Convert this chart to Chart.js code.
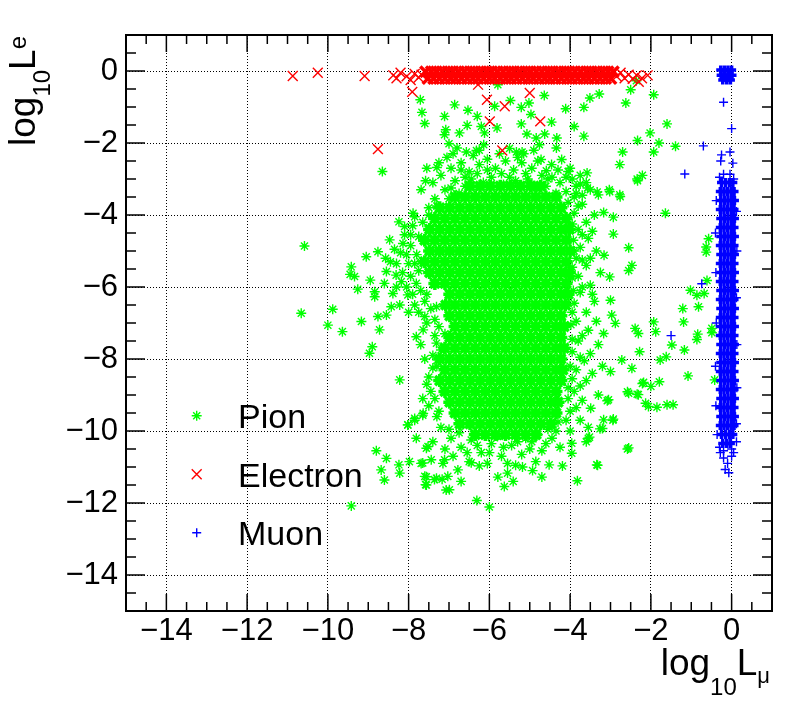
<!DOCTYPE html>
<html>
<head>
<meta charset="utf-8">
<script src="https://cdn.jsdelivr.net/npm/chart.js@4.4.1/dist/chart.umd.min.js"></script>
<style>
  html, body { margin: 0; padding: 0; background: #fff; }
  #box { width: 788px; height: 703px; }
</style>
</head>
<body>
<div id="box"><canvas id="plot" width="788" height="703"></canvas></div>
<script>
// axis ranges and tick labels
var xRange = [-15, 1];
var yRange = [-15, 1];
var xTicks = [-14, -12, -10, -8, -6, -4, -2, 0];
var yTicks = [0, -2, -4, -6, -8, -10, -12, -14];

// Pion: dense core, one row per log10 Le value
var pionCoreRows = [
  [-3.2, [-6.48, -6.23, -5.98, -5.73, -5.48, -5.23, -4.98, -4.73]],
  [-3.5, [-6.85, -6.6, -6.35, -6.1, -5.85, -5.6, -5.35, -5.1, -4.85, -4.6, -4.35]],
  [-3.8, [-7.23, -6.98, -6.73, -6.48, -6.23, -5.98, -5.73, -5.48, -5.23, -4.98, -4.73, -4.48, -4.23]],
  [-4.1, [-7.35, -7.1, -6.85, -6.6, -6.35, -6.1, -5.85, -5.6, -5.35, -5.1, -4.85, -4.6, -4.35, -4.1]],
  [-4.4, [-7.48, -7.23, -6.98, -6.73, -6.48, -6.23, -5.98, -5.73, -5.48, -5.23, -4.98, -4.73, -4.48, -4.23, -4.02]],
  [-4.7, [-7.6, -7.35, -7.1, -6.85, -6.6, -6.35, -6.1, -5.85, -5.6, -5.35, -5.1, -4.85, -4.6, -4.35, -4.1]],
  [-5.0, [-7.48, -7.23, -6.98, -6.73, -6.48, -6.23, -5.98, -5.73, -5.48, -5.23, -4.98, -4.73, -4.48, -4.23, -4.0]],
  [-5.3, [-7.6, -7.35, -7.1, -6.85, -6.6, -6.35, -6.1, -5.85, -5.6, -5.35, -5.1, -4.85, -4.6, -4.35, -4.1]],
  [-5.6, [-7.48, -7.23, -6.98, -6.73, -6.48, -6.23, -5.98, -5.73, -5.48, -5.23, -4.98, -4.73, -4.48, -4.23, -4.02]],
  [-5.9, [-7.35, -7.1, -6.85, -6.6, -6.35, -6.1, -5.85, -5.6, -5.35, -5.1, -4.85, -4.6, -4.35, -4.1]],
  [-6.2, [-6.98, -6.73, -6.48, -6.23, -5.98, -5.73, -5.48, -5.23, -4.98, -4.73, -4.48, -4.23, -4.05]],
  [-6.5, [-7.08, -6.85, -6.6, -6.35, -6.1, -5.85, -5.6, -5.35, -5.1, -4.85, -4.6, -4.35, -4.12]],
  [-6.8, [-6.98, -6.73, -6.48, -6.23, -5.98, -5.73, -5.48, -5.23, -4.98, -4.73, -4.48, -4.23]],
  [-7.1, [-6.85, -6.6, -6.35, -6.1, -5.85, -5.6, -5.35, -5.1, -4.85, -4.6, -4.35, -4.15]],
  [-7.4, [-6.98, -6.73, -6.48, -6.23, -5.98, -5.73, -5.48, -5.23, -4.98, -4.73, -4.48, -4.23]],
  [-7.7, [-7.1, -6.85, -6.6, -6.35, -6.1, -5.85, -5.6, -5.35, -5.1, -4.85, -4.6, -4.35, -4.15]],
  [-8.0, [-7.23, -6.98, -6.73, -6.48, -6.23, -5.98, -5.73, -5.48, -5.23, -4.98, -4.73, -4.48, -4.23]],
  [-8.3, [-7.1, -6.85, -6.6, -6.35, -6.1, -5.85, -5.6, -5.35, -5.1, -4.85, -4.6, -4.35, -4.18]],
  [-8.6, [-7.23, -6.98, -6.73, -6.48, -6.23, -5.98, -5.73, -5.48, -5.23, -4.98, -4.73, -4.48, -4.23]],
  [-8.9, [-7.1, -6.85, -6.6, -6.35, -6.1, -5.85, -5.6, -5.35, -5.1, -4.85, -4.6, -4.35]],
  [-9.2, [-6.98, -6.73, -6.48, -6.23, -5.98, -5.73, -5.48, -5.23, -4.98, -4.73, -4.48, -4.3]],
  [-9.5, [-6.85, -6.6, -6.35, -6.1, -5.85, -5.6, -5.35, -5.1, -4.85, -4.6, -4.35]],
  [-9.8, [-6.73, -6.48, -6.23, -5.98, -5.73, -5.48, -5.23, -4.98, -4.73, -4.48]],
  [-10.1, [-6.35, -6.1, -5.85, -5.6, -5.35, -5.1, -4.85]]
];

// Pion: scattered points [log10 Lmu, log10 Le]
var pionPoints = [
  [-7.71, -0.8], [-7.67, -1.15], [-7.6, -1.46], [-7.11, -1.26], [-6.86, -0.94], [-6.53, -1.09],
  [-6.3, -1.26], [-6.55, -1.51], [-7.08, -1.63], [-7.11, -1.77], [-6.74, -1.72], [-6.2, -1.54],
  [-6.12, -1.72], [-5.81, -1.58], [-5.87, -0.98], [-5.79, -0.38], [-5.48, -0.82], [-5.21, -1.01],
  [-5.02, -0.89], [-4.97, -1.21], [-5.21, -1.47], [-4.64, -0.68], [-4.46, -1.42], [-4.63, -1.75],
  [-5.07, -1.75], [-4.84, -1.86], [-4.33, -1.86], [-4.76, -2.05], [-4.34, -2.14], [-4.11, -1.05],
  [-3.66, -1.01], [-3.51, -0.75], [-3.28, -0.64], [-3.9, -1.54], [-3.66, -1.81], [-2.62, -0.89],
  [-2.5, -0.52], [-2.36, -0.27], [-1.93, -0.66], [-1.6, -1.47], [-2.02, -1.72], [-2.33, -1.93],
  [-1.8, -2.0], [-1.39, -2.09], [-1.93, -2.25], [-2.7, -2.25], [-2.77, -2.6], [-2.21, -2.9],
  [-2.34, -3.0], [-3.58, -2.83], [-2.77, -3.44], [-3.03, -3.3], [-3.33, -3.36], [-3.57, -3.25],
  [-7.0, -2.02], [-6.8, -2.14], [-6.57, -2.25], [-7.05, -2.4], [-7.3, -2.68], [-7.58, -3.05],
  [-7.69, -3.3], [-6.32, -2.21], [-6.14, -2.05], [-5.33, -2.25], [-5.19, -2.25], [-4.72, -2.46],
  [-4.46, -2.6], [-4.21, -2.46], [-4.59, -2.77], [-4.05, -2.79], [-8.65, -2.79],
  [-7.2, -2.9], [-6.95, -2.7], [-6.7, -2.55], [-6.5, -2.8], [-6.25, -2.6], [-6.05, -2.45],
  [-5.85, -2.7], [-5.6, -2.5], [-5.4, -2.75], [-5.2, -2.55], [-4.95, -2.7], [-4.7, -2.9],
  [-4.45, -2.95], [-4.25, -3.1], [-6.85, -3.05], [-6.6, -3.2], [-5.95, -2.95], [-5.5, -2.95],
  [-5.05, -3.0], [-4.6, -3.2], [-4.1, -3.35], [-3.9, -3.5], [-7.1, -3.3], [-7.35, -3.55],
  [-7.5, -3.8], [-3.95, -3.0], [-6.4, -2.35], [-5.75, -2.3], [-5.3, -2.4], [-6.15, -3.1],
  [-5.65, -3.15], [-5.25, -3.2], [-4.85, -3.25], [-7.4, -3.1], [-6.9, -2.3], [-6.6, -2.95],
  [-6.3, -2.85], [-5.1, -2.85], [-4.8, -2.5], [-4.3, -2.75], [-4.0, -2.7], [-3.75, -2.9],
  [-3.6, -3.1], [-4.05, -3.65], [-7.0, -3.55], [-6.75, -3.4],
  [-7.25, -2.55], [-6.95, -3.25], [-6.45, -3.0], [-6.05, -2.75], [-5.7, -2.85], [-5.35, -3.05],
  [-4.95, -3.15], [-4.55, -3.0], [-4.35, -3.4], [-6.25, -2.2], [-5.5, -2.15], [-4.9, -2.2],
  [-7.55, -2.7], [-6.7, -2.75], [-5.15, -2.3], [-4.1, -2.95], [-3.85, -3.2], [-7.3, -3.75],
  [-7.5, -4.0], [-3.8, -3.75],
  [-10.58, -4.86], [-10.66, -6.73], [-10.0, -7.06], [-9.88, -6.62], [-9.64, -7.24], [-9.17, -6.96],
  [-8.9, -7.66], [-8.97, -7.84], [-8.72, -7.19], [-8.76, -6.82], [-8.55, -6.78], [-9.42, -5.44],
  [-9.34, -5.71], [-9.45, -5.65], [-9.26, -6.06], [-9.05, -5.16], [-8.76, -5.02], [-8.95, -5.81],
  [-8.84, -6.13], [-8.84, -6.27], [-8.57, -5.2], [-8.47, -4.69], [-8.24, -4.19], [-8.1, -4.32],
  [-8.14, -4.79], [-8.39, -6.18], [-8.22, -6.5], [-8.43, -6.55], [-8.55, -5.57], [-8.31, -5.67],
  [-8.02, -6.22], [-8.18, -5.85], [-8.22, -8.58], [-8.8, -10.55], [-8.55, -10.76], [-8.68, -11.08],
  [-8.6, -11.36], [-8.24, -10.94], [-8.22, -11.17], [-7.98, -10.85], [-9.42, -12.08], [-8.02, -9.83],
  [-7.85, -9.65], [-7.64, -9.51], [-7.81, -7.38], [-7.64, -7.19], [-7.31, -7.56], [-7.6, -6.82],
  [-7.31, -6.55], [-7.81, -10.2], [-7.56, -10.48], [-7.69, -10.9], [-7.56, -11.27], [-7.56, -11.5],
  [-7.31, -11.31], [-7.44, -10.8], [-7.15, -10.9], [-7.07, -11.64], [-7.89, -3.95], [-7.81, -5.9],
  [-7.9, -4.3], [-7.75, -4.6], [-7.95, -4.85], [-7.8, -5.1], [-8.0, -5.35], [-7.75, -5.55],
  [-7.7, -6.1], [-7.6, -6.4], [-7.45, -6.6], [-7.35, -6.9], [-7.55, -6.2], [-7.85, -6.5],
  [-8.1, -4.55], [-8.2, -5.05], [-8.15, -5.6], [-8.05, -6.0], [-7.65, -4.2], [-7.7, -5.3],
  [-7.25, -7.1], [-7.1, -7.3], [-7.4, -7.9], [-7.3, -8.2], [-7.5, -8.5], [-7.45, -8.9],
  [-7.5, -9.3], [-7.3, -9.6], [-7.6, -8.0], [-8.35, -4.95], [-8.3, -5.35], [-7.95, -5.7], [-8.6, -5.9],
  [-7.85, -4.05], [-7.95, -4.55], [-8.05, -5.1], [-7.85, -5.35], [-7.9, -6.2], [-7.75, -6.7],
  [-7.55, -7.0], [-7.35, -7.35], [-7.2, -7.75], [-7.4, -8.25], [-7.55, -8.7], [-7.35, -9.1],
  [-7.25, -9.45], [-7.65, -9.1], [-8.3, -6.0], [-8.45, -5.3], [-8.0, -6.7], [-7.7, -7.6],
  [-3.75, -3.14], [-3.3, -3.44], [-3.02, -3.35], [-2.76, -3.49], [-2.33, -3.05], [-3.17, -3.93],
  [-2.93, -4.06], [-1.64, -3.95], [-2.93, -4.53], [-2.55, -4.91], [-3.16, -5.12], [-2.47, -5.4],
  [-2.55, -5.54], [-3.02, -5.72], [-3.0, -6.37], [-2.97, -6.78], [-2.88, -7.01], [-3.17, -7.29],
  [-2.39, -7.15], [-2.31, -7.29], [-1.93, -6.97], [-1.88, -7.24], [-2.28, -7.8], [-2.72, -8.03],
  [-2.47, -8.26], [-3.0, -8.35], [-1.77, -8.03], [-1.62, -7.94], [-1.48, -7.61], [-1.17, -7.75],
  [-1.08, -8.47], [-2.18, -8.65], [-2.0, -8.76], [-1.79, -8.63], [-2.55, -8.95], [-2.31, -8.99],
  [-2.06, -9.32], [-1.85, -9.34], [-1.6, -9.27], [-1.45, -9.27], [-3.05, -9.13], [-3.17, -9.69],
  [-2.93, -9.67], [-3.26, -9.94], [-3.52, -10.17], [-2.55, -10.47], [-3.32, -10.95], [-1.02, -6.09],
  [-0.86, -6.23], [-0.68, -6.18], [-1.21, -6.6], [-0.82, -6.55], [-1.19, -6.97], [-0.84, -7.31],
  [-0.86, -7.46], [-0.49, -7.15], [-0.49, -7.27], [-0.61, -5.82], [-0.57, -4.66], [-0.63, -4.89],
  [-0.63, -5.03], [-0.42, -8.58],
  [-3.85, -3.4], [-3.7, -3.7], [-3.9, -3.95], [-3.6, -4.2], [-3.8, -4.4], [-3.55, -4.65],
  [-3.75, -4.9], [-3.85, -5.2], [-3.6, -5.4], [-3.8, -5.7], [-3.5, -5.95], [-3.75, -6.15],
  [-3.9, -6.45], [-3.6, -6.7], [-3.85, -6.95], [-3.55, -7.2], [-3.8, -7.5], [-3.95, -7.8],
  [-3.65, -8.05], [-3.85, -8.3], [-3.6, -8.6], [-3.9, -8.9], [-3.7, -9.15], [-4.0, -9.45],
  [-3.75, -9.7], [-3.4, -4.0], [-3.35, -5.0], [-3.4, -6.4], [-3.3, -7.6], [-3.45, -8.4],
  [-3.3, -9.0], [-3.5, -3.3], [-4.0, -10.0], [-3.6, -10.3], [-3.92, -4.7], [-3.95, -5.45],
  [-3.92, -6.1], [-3.98, -7.05], [-3.95, -8.55], [-4.05, -9.1], [-3.45, -4.45], [-3.25, -5.6],
  [-3.35, -6.95], [-3.2, -8.2],
  [-3.7, -3.45], [-3.95, -4.25], [-3.7, -4.55], [-3.9, -5.0], [-3.7, -5.25], [-3.95, -5.75],
  [-3.7, -6.0], [-3.95, -6.7], [-3.7, -7.35], [-3.95, -7.45], [-3.75, -7.95], [-4.0, -8.2],
  [-3.75, -8.75], [-4.05, -8.8], [-3.85, -9.35], [-4.1, -9.7], [-3.55, -9.9], [-3.5, -7.85],
  [-3.45, -6.2], [-3.5, -5.2],
  [-7.65, -10.89], [-7.6, -11.26], [-7.58, -11.49], [-7.36, -11.35], [-7.17, -11.34], [-7.03, -11.26],
  [-6.99, -11.63], [-6.7, -11.4], [-6.78, -11.08], [-7.11, -10.8], [-6.45, -10.88], [-6.25, -10.97],
  [-6.31, -11.93], [-6.0, -12.11], [-5.79, -11.28], [-5.63, -11.54], [-5.41, -11.4], [-5.55, -11.17],
  [-5.18, -11.0], [-4.93, -11.1], [-4.7, -11.28], [-4.52, -10.94], [-4.19, -10.97], [-3.82, -11.38],
  [-3.34, -10.94], [-2.58, -10.5], [-3.08, -9.16], [-2.94, -9.7], [-3.2, -9.93], [-3.55, -10.2],
  [-3.49, -9.37], [-2.58, -8.91], [-2.34, -8.98], [-2.13, -9.23], [-2.21, -8.68], [-3.96, -10.62],
  [-3.96, -10.34], [-7.85, -9.7], [-7.65, -9.56], [-8.02, -9.83], [-7.52, -10.43],
  [-7.2, -9.9], [-6.95, -10.2], [-6.7, -10.45], [-6.45, -10.25], [-6.2, -10.6], [-5.95, -10.35],
  [-5.7, -10.7], [-5.45, -10.4], [-5.2, -10.65], [-4.95, -10.3], [-4.7, -10.55], [-4.45, -10.2],
  [-4.25, -10.45], [-4.55, -9.95], [-4.3, -9.75], [-6.9, -10.7], [-6.5, -10.85], [-6.05, -10.9],
  [-5.35, -10.95], [-4.85, -10.85], [-7.4, -10.3], [-7.1, -10.5], [-5.8, -10.15], [-5.1, -10.2],
  [-6.75, -10.05], [-6.55, -10.6], [-6.3, -10.4], [-6.0, -10.6], [-5.65, -10.45], [-5.3, -10.3],
  [-5.0, -10.5], [-4.6, -10.35], [-4.35, -10.0], [-4.8, -10.1], [-7.0, -9.95], [-5.55, -10.9]
];

// Electron: dense band near log10 Le = 0
var electronCoreRows = [
  [-0.02, [-7.58, -7.44, -7.31, -7.17, -7.03, -6.9, -6.76, -6.62, -6.48, -6.35, -6.21, -6.07, -5.94,
           -5.8, -5.66, -5.52, -5.39, -5.25, -5.11, -4.98, -4.84, -4.7, -4.56, -4.43, -4.29, -4.15,
           -4.02, -3.88, -3.74, -3.6, -3.47, -3.33, -3.19, -3.06, -2.93]],
  [-0.21, [-7.52, -7.38, -7.24, -7.1, -6.96, -6.83, -6.69, -6.55, -6.41, -6.28, -6.14, -6.0, -5.87,
           -5.73, -5.59, -5.46, -5.32, -5.18, -5.04, -4.91, -4.77, -4.63, -4.5, -4.36, -4.22, -4.08,
           -3.95, -3.81, -3.67, -3.54, -3.4, -3.26, -3.12, -2.99]]
];
var electronPoints = [
  [-8.38, -0.12], [-8.3, -0.2], [-8.2, -0.05], [-8.05, -0.15], [-7.95, -0.25], [-7.85, -0.08],
  [-7.75, -0.18], [-7.68, -0.1], [-2.85, -0.15], [-2.75, -0.05], [-2.65, -0.2], [-2.55, -0.1],
  [-2.45, -0.22], [-2.35, -0.12], [-2.22, -0.2], [-2.08, -0.12], [-2.3, -0.3],
  [-10.87, -0.14], [-10.25, -0.05], [-9.09, -0.14], [-8.76, -2.17], [-7.91, -0.58], [-6.06, -0.8],
  [-5.62, -0.98], [-5.0, -0.61], [-5.99, -1.4], [-4.74, -1.4], [-5.68, -2.21], [-6.28, -0.38]
];

// Muon: dense column near log10 Lmu = 0
var muonCoreRows = [
  [0.03, [-0.27, -0.18, -0.09, 0.0]], [-0.12, [-0.26, -0.17, -0.08, 0.01]], [-0.25, [-0.22, -0.12, -0.03]],
  [-3.1, [-0.25, -0.15, -0.05, 0.03]],
  [-3.35, [-0.28, -0.19, -0.1, -0.01, 0.06]], [-3.6, [-0.27, -0.18, -0.09, 0.0, 0.07]],
  [-3.85, [-0.28, -0.19, -0.1, -0.01, 0.06]], [-4.1, [-0.27, -0.18, -0.09, 0.0, 0.07]],
  [-4.35, [-0.28, -0.19, -0.1, -0.01, 0.06]], [-4.6, [-0.27, -0.18, -0.09, 0.0, 0.07]],
  [-4.85, [-0.28, -0.19, -0.1, -0.01, 0.06]], [-5.1, [-0.27, -0.18, -0.09, 0.0, 0.07]],
  [-5.35, [-0.28, -0.19, -0.1, -0.01, 0.06]], [-5.6, [-0.27, -0.18, -0.09, 0.0, 0.07]],
  [-5.85, [-0.28, -0.19, -0.1, -0.01, 0.06]], [-6.1, [-0.27, -0.18, -0.09, 0.0, 0.07]],
  [-6.35, [-0.28, -0.19, -0.1, -0.01, 0.06]], [-6.6, [-0.27, -0.18, -0.09, 0.0, 0.07]],
  [-6.85, [-0.28, -0.19, -0.1, -0.01, 0.06]], [-7.1, [-0.27, -0.18, -0.09, 0.0, 0.07]],
  [-7.35, [-0.28, -0.19, -0.1, -0.01, 0.06]], [-7.6, [-0.27, -0.18, -0.09, 0.0, 0.07]],
  [-7.85, [-0.28, -0.19, -0.1, -0.01, 0.06]], [-8.1, [-0.27, -0.18, -0.09, 0.0, 0.07]],
  [-8.35, [-0.28, -0.19, -0.1, -0.01, 0.06]], [-8.6, [-0.27, -0.18, -0.09, 0.0, 0.07]],
  [-8.85, [-0.28, -0.19, -0.1, -0.01, 0.06]], [-9.1, [-0.27, -0.18, -0.09, 0.0, 0.07]],
  [-9.35, [-0.28, -0.19, -0.1, -0.01, 0.06]], [-9.6, [-0.27, -0.18, -0.09, 0.0, 0.07]],
  [-9.85, [-0.28, -0.19, -0.1, -0.01, 0.06]], [-10.1, [-0.25, -0.15, -0.05, 0.03]],
  [-10.35, [-0.22, -0.12, -0.03]]
];
var muonPoints = [
  [-0.2, -0.87], [0.0, -1.6], [-0.7, -2.08], [-1.16, -2.86], [-0.25, -2.33], [-0.04, -2.25],
  [0.03, -2.56], [-0.27, -2.5], [-0.2, -2.87], [-0.04, -2.87], [0.05, -3.0], [-0.3, -2.95],
  [-0.74, -5.91], [-1.5, -7.35],
  [-0.2, -10.55], [0.0, -10.5], [-0.28, -10.6], [-0.2, -10.75], [0.0, -10.7], [-0.16, -11.07],
  [-0.07, -11.16], [-0.1, -10.9], [0.05, -10.6], [-0.3, -10.45],
  [-0.38, -3.6], [0.12, -3.9], [-0.4, -4.5], [0.13, -5.0], [-0.39, -5.6], [0.12, -6.3],
  [-0.38, -7.0], [0.13, -7.6], [-0.4, -8.2], [0.13, -8.8], [-0.39, -9.3], [0.12, -9.8],
  [-0.36, -10.1], [0.12, -10.3]
];

function fromRows(rows) {
  var out = [];
  rows.forEach(function (r) {
    r[1].forEach(function (x) { out.push({ x: x, y: r[0] }); });
  });
  return out;
}
function fromPairs(list) {
  return list.map(function (p) { return { x: p[0], y: p[1] }; });
}
function minusLabel(v) {
  return v < 0 ? '\u2212' + Math.abs(v) : String(v);
}

var FONT = '"Liberation Sans", Arial, Helvetica, sans-serif';
Chart.defaults.font.family = FONT;
Chart.defaults.color = '#000';

var green = '#00ff00', red = '#ff0000', blue = '#0000ff';

function markerSet(label, data, color, style, radius, width, order) {
  return {
    label: label,
    data: data,
    pointStyle: style,
    pointRadius: radius,
    pointBorderWidth: width,
    borderColor: color,
    backgroundColor: color,
    showLine: false,
    order: order
  };
}

var datasets = [
  markerSet('Pion', fromPairs(pionPoints), green, 'star', 5, 1.4, 4),
  markerSet('Electron', fromPairs(electronPoints), red, 'crossRot', 7, 1.4, 2),
  markerSet('Muon', fromPairs(muonPoints), blue, 'cross', 4.5, 1.4, 0),
  markerSet('Pion core', fromRows(pionCoreRows), green, 'star', 6.5, 3.5, 5),
  markerSet('Electron core', fromRows(electronCoreRows), red, 'crossRot', 7.5, 3.5, 3),
  markerSet('Muon core', fromRows(muonCoreRows), blue, 'cross', 4.5, 3.5, 1)
];

// ROOT style frame, inward ticks, axis titles and legend box
var rootStyle = {
  id: 'rootStyle',
  afterDraw: function (chart) {
    var ctx = chart.ctx, a = chart.chartArea;
    var xs = chart.scales.x, ys = chart.scales.y;
    var i, v, p, len;
    ctx.save();
    ctx.strokeStyle = '#000';
    ctx.lineWidth = 1.5;
    ctx.beginPath();
    for (i = 1; i < (xs.max - xs.min) * 2; i++) {
      v = xs.min + i * 0.5;
      p = xs.getPixelForValue(v);
      len = Math.abs(v % 2) < 1e-9 ? 17 : 9;
      ctx.moveTo(p, a.bottom); ctx.lineTo(p, a.bottom - len);
      ctx.moveTo(p, a.top); ctx.lineTo(p, a.top + len);
    }
    for (i = 1; i < (ys.max - ys.min) * 2; i++) {
      v = ys.min + i * 0.5;
      p = ys.getPixelForValue(v);
      len = Math.abs(v % 2) < 1e-9 ? 19 : 10;
      ctx.moveTo(a.left, p); ctx.lineTo(a.left + len, p);
      ctx.moveTo(a.right, p); ctx.lineTo(a.right - len, p);
    }
    ctx.stroke();
    ctx.lineWidth = 2;
    ctx.strokeRect(a.left, a.top, a.right - a.left, a.bottom - a.top);

    // axis titles with sub/superscripts
    function drawPieces(pieces, x0, y0) {
      var x = x0;
      pieces.forEach(function (pc) {
        ctx.font = pc.size + 'px ' + FONT;
        ctx.fillText(pc.t, x, y0 + pc.dy);
        x += ctx.measureText(pc.t).width;
      });
    }
    function piecesWidth(pieces) {
      var w = 0;
      pieces.forEach(function (pc) {
        ctx.font = pc.size + 'px ' + FONT;
        w += ctx.measureText(pc.t).width;
      });
      return w;
    }
    ctx.fillStyle = '#000';
    ctx.textBaseline = 'alphabetic';
    ctx.textAlign = 'left';
    var xTitle = [
      { t: 'log', size: 37, dy: 0 }, { t: '10', size: 24, dy: 20 },
      { t: 'L', size: 37, dy: 0 }, { t: '\u03bc', size: 22, dy: 8 }
    ];
    drawPieces(xTitle, 770 - piecesWidth(xTitle), 675);
    var yTitle = [
      { t: 'log', size: 37, dy: 0 }, { t: '10', size: 24, dy: 15 },
      { t: 'L', size: 37, dy: 0 }, { t: 'e', size: 24, dy: -9 }
    ];
    ctx.save();
    ctx.translate(35, 146);
    ctx.rotate(-Math.PI / 2);
    drawPieces(yTitle, 0, 0);
    ctx.restore();

    // legend entries
    var entries = chart.data.datasets.slice(0, 3);
    entries.forEach(function (ds, k) {
      var cy = 415.7 + k * 58.5;
      ctx.strokeStyle = ds.borderColor;
      ctx.fillStyle = ds.backgroundColor;
      ctx.lineWidth = 1.4;
      Chart.helpers.drawPoint(ctx, {
        pointStyle: ds.pointStyle, radius: ds.pointRadius,
        borderWidth: 1.4, rotation: 0
      }, 196.7, cy);
      ctx.fillStyle = '#000';
      ctx.font = '34px ' + FONT;
      ctx.fillText(ds.label, 238, cy + 12.5);
    });
    ctx.restore();
  }
};

new Chart(document.getElementById('plot'), {
  type: 'scatter',
  data: { datasets: datasets },
  options: {
    responsive: false,
    animation: false,
    events: [],
    layout: { padding: { top: 35, right: 16, left: 0, bottom: 0 } },
    plugins: {
      legend: { display: false },
      tooltip: { enabled: false },
      title: { display: false }
    },
    scales: {
      x: {
        type: 'linear', min: xRange[0], max: xRange[1], z: 1,
        afterBuildTicks: function (ax) { ax.ticks = xTicks.map(function (v) { return { value: v }; }); },
        afterFit: function (ax) { ax.height = 92; },
        ticks: { callback: minusLabel, font: { size: 31 }, color: '#000', padding: 2, maxRotation: 0, autoSkip: false },
        grid: { color: '#000', lineWidth: 1, drawTicks: false },
        border: { display: false, dash: [1, 2] }
      },
      y: {
        type: 'linear', min: yRange[0], max: yRange[1], z: 1,
        afterBuildTicks: function (ax) { ax.ticks = yTicks.map(function (v) { return { value: v }; }); },
        afterFit: function (ax) { ax.width = 126; },
        ticks: { callback: minusLabel, font: { size: 31 }, color: '#000', padding: 8, autoSkip: false },
        grid: { color: '#000', lineWidth: 1, drawTicks: false },
        border: { display: false, dash: [1, 2] }
      }
    }
  },
  plugins: [rootStyle]
});
</script>
</body>
</html>
